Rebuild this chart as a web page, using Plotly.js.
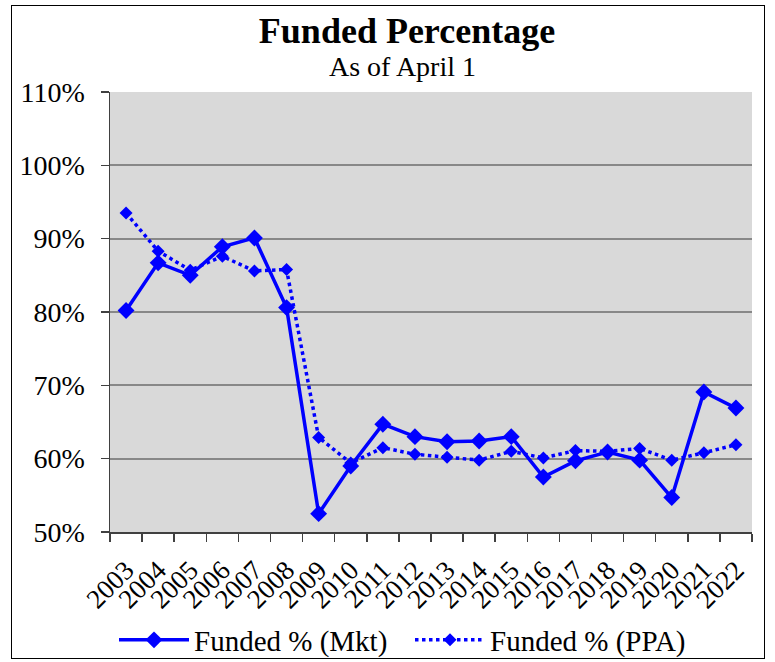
<!DOCTYPE html>
<html>
<head>
<meta charset="utf-8">
<script src="https://cdn.plot.ly/plotly-3.0.1.min.js"></script>
<style>
  html, body { margin: 0; padding: 0; background: #fff; }
  #wrap { position: relative; width: 775px; height: 662px; }
  #chart { position: absolute; left: 0; top: 0; width: 775px; height: 662px; }
  #frame { position: absolute; left: 11px; top: 5px; width: 754px; height: 654px; border: 1.5px solid #000; pointer-events: none; box-sizing: border-box; }
</style>
</head>
<body>
<div id="wrap">
  <div id="chart"></div>
  <div id="frame"></div>
</div>
<script>
const years = ["2003","2004","2005","2006","2007","2008","2009","2010","2011","2012",
               "2013","2014","2015","2016","2017","2018","2019","2020","2021","2022"];
const fundedMkt = [0.802, 0.867, 0.850, 0.889, 0.901, 0.806, 0.525, 0.590, 0.647, 0.630,
                   0.623, 0.624, 0.630, 0.575, 0.597, 0.609, 0.598, 0.547, 0.691, 0.669];
const fundedPPA = [0.935, 0.883, 0.857, 0.876, 0.856, 0.858, 0.629, 0.594, 0.615, 0.606,
                   0.602, 0.598, 0.610, 0.601, 0.611, 0.610, 0.614, 0.598, 0.608, 0.619];
const seriesNames = ["Funded % (Mkt)", "Funded % (PPA)"];
const titleText = "Funded Percentage";
const subtitleText = "As of April 1";

const FONT = "Liberation Serif, Times New Roman, serif";
const BLUE = "#0000FF";

const traces = [
  {
    x: years, y: fundedMkt, name: seriesNames[0], type: "scatter", mode: "lines+markers",
    line: { color: BLUE, width: 3.5 },
    marker: { symbol: "diamond", size: 13, color: BLUE }
  },
  {
    x: years, y: fundedPPA, name: seriesNames[1], type: "scatter", mode: "lines+markers",
    line: { color: BLUE, width: 3.5, dash: "dot" },
    marker: { symbol: "diamond", size: 10, color: BLUE }
  }
];

const layout = {
  width: 775, height: 662,
  margin: { l: 110, r: 23, t: 92, b: 130 },
  paper_bgcolor: "rgba(0,0,0,0)",
  plot_bgcolor: "#D9D9D9",
  font: { family: FONT, color: "#000", size: 27 },
  showlegend: true,
  hovermode: false,
  title: {
    text: "<b>" + titleText + "</b>",
    font: { family: FONT, size: 36, color: "#000" },
    xref: "container", x: 407 / 775, xanchor: "center",
    yref: "container", y: 1 - 30 / 662, yanchor: "middle"
  },
  annotations: [{
    text: subtitleText, showarrow: false,
    xref: "paper", yref: "paper",
    x: (402 - 110) / 642, y: (532 - 66) / 440,
    xanchor: "center", yanchor: "middle",
    font: { family: FONT, size: 28, color: "#000" }
  }],
  xaxis: {
    type: "category",
    range: [-0.5, 19.5],
    tickmode: "linear", tick0: 0, dtick: 1,
    showline: true, linecolor: "#404040", linewidth: 1.5,
    ticks: "outside", tickson: "boundaries", ticklen: 8, tickcolor: "#404040", tickwidth: 1.5,
    tickangle: -45,
    ticklabelstandoff: 10,
    showgrid: false, zeroline: false,
    tickfont: { family: FONT, size: 27, color: "#000" }
  },
  yaxis: {
    range: [0.5, 1.1], dtick: 0.1, tick0: 0.5,
    tickformat: ".0%",
    showline: true, linecolor: "#404040", linewidth: 1.5,
    ticks: "outside", ticklen: 8, tickcolor: "#404040", tickwidth: 1.5,
    ticklabelstandoff: 10,
    showgrid: true, gridcolor: "#888888", gridwidth: 2,
    zeroline: false,
    tickfont: { family: FONT, size: 28, color: "#000" }
  },
  legend: {
    orientation: "h",
    xref: "container", x: 410 / 775, xanchor: "center",
    yref: "container", y: 1 - 640 / 662, yanchor: "middle",
    itemwidth: 70,
    entrywidth: 211, entrywidthmode: "pixels",
    font: { family: FONT, size: 29, color: "#000" },
    bgcolor: "rgba(0,0,0,0)"
  }
};

Plotly.newPlot("chart", traces, layout, { displayModeBar: false, staticPlot: true });
</script>
</body>
</html>
